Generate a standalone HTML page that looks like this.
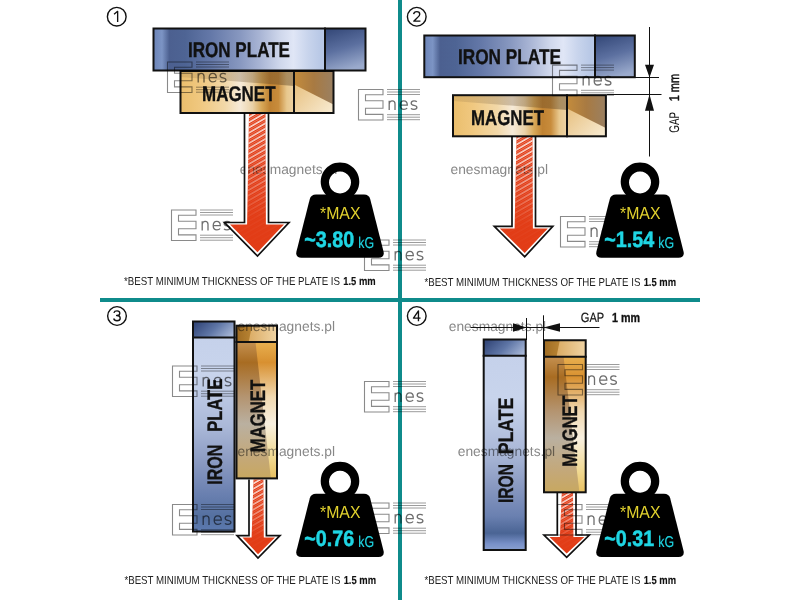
<!DOCTYPE html>
<html><head><meta charset="utf-8">
<style>
html,body{margin:0;padding:0;background:#fff;width:800px;height:600px;overflow:hidden}
svg{display:block;font-family:"Liberation Sans",sans-serif}
</style></head>
<body>
<svg width="800" height="600" viewBox="0 0 800 600" text-rendering="geometricPrecision">
<defs>
  <linearGradient id="ironH" x1="0" y1="0" x2="1" y2="0">
    <stop offset="0" stop-color="#6c84b8"/>
    <stop offset="0.04" stop-color="#7c94c4"/>
    <stop offset="0.075" stop-color="#4c6090"/>
    <stop offset="0.15" stop-color="#4e6494"/>
    <stop offset="0.27" stop-color="#6478a8"/>
    <stop offset="0.41" stop-color="#8898c0"/>
    <stop offset="0.5" stop-color="#a8b4d4"/>
    <stop offset="0.6" stop-color="#d0d8ec"/>
    <stop offset="0.66" stop-color="#e0e6f6"/>
    <stop offset="0.73" stop-color="#c8d4ec"/>
    <stop offset="0.79" stop-color="#b8c8e6"/>
    <stop offset="1" stop-color="#b8c8e6"/>
  </linearGradient>
  <linearGradient id="ironV3" x1="0" y1="0" x2="0" y2="1">
    <stop offset="0" stop-color="#c4d0ea"/>
    <stop offset="0.25" stop-color="#c8d4ec"/>
    <stop offset="0.5" stop-color="#aab8d8"/>
    <stop offset="0.68" stop-color="#8898c0"/>
    <stop offset="0.82" stop-color="#6a80b0"/>
    <stop offset="0.93" stop-color="#5470a0"/>
    <stop offset="1" stop-color="#5c7ab0"/>
  </linearGradient>
  <linearGradient id="ironV4" x1="0" y1="0" x2="0" y2="1">
    <stop offset="0" stop-color="#c4d0ea"/>
    <stop offset="0.28" stop-color="#c8d4ec"/>
    <stop offset="0.55" stop-color="#a8b6d6"/>
    <stop offset="0.7" stop-color="#8898c0"/>
    <stop offset="0.84" stop-color="#6a80b0"/>
    <stop offset="0.92" stop-color="#4a6494"/>
    <stop offset="0.97" stop-color="#7890c8"/>
    <stop offset="1" stop-color="#8aa0d0"/>
  </linearGradient>
  <linearGradient id="ironCap" x1="0.2" y1="0" x2="0.5" y2="1">
    <stop offset="0" stop-color="#364a7a"/>
    <stop offset="0.5" stop-color="#5c70a0"/>
    <stop offset="1" stop-color="#9aaacc"/>
  </linearGradient>
  <linearGradient id="ironCapV" x1="0" y1="0.3" x2="1" y2="0.7">
    <stop offset="0" stop-color="#34487a"/>
    <stop offset="0.5" stop-color="#5f76a6"/>
    <stop offset="1" stop-color="#a6b6d6"/>
  </linearGradient>
  <linearGradient id="magH" x1="0" y1="0" x2="1" y2="0">
    <stop offset="0" stop-color="#eabe6c"/>
    <stop offset="0.13" stop-color="#f0c880"/>
    <stop offset="0.29" stop-color="#f2d8a8"/>
    <stop offset="0.39" stop-color="#f6ead8"/>
    <stop offset="0.47" stop-color="#ead2a8"/>
    <stop offset="0.53" stop-color="#d8a858"/>
    <stop offset="0.585" stop-color="#c08232"/>
    <stop offset="0.64" stop-color="#c88c3c"/>
    <stop offset="0.695" stop-color="#e8c88e"/>
    <stop offset="0.735" stop-color="#ecd0a0"/>
    <stop offset="1" stop-color="#ecd0a0"/>
  </linearGradient>
  <linearGradient id="magVL" x1="0" y1="0" x2="0" y2="1">
    <stop offset="0" stop-color="#c49050"/>
    <stop offset="0.15" stop-color="#a86c22"/>
    <stop offset="0.4" stop-color="#b49470"/>
    <stop offset="0.6" stop-color="#bab0a0"/>
    <stop offset="0.85" stop-color="#c4a878"/>
    <stop offset="1" stop-color="#c8a860"/>
  </linearGradient>
  <linearGradient id="magVR" x1="0" y1="0" x2="0" y2="1">
    <stop offset="0" stop-color="#e8b050"/>
    <stop offset="0.15" stop-color="#d89030"/>
    <stop offset="0.4" stop-color="#f0d8b0"/>
    <stop offset="0.6" stop-color="#f8f0e0"/>
    <stop offset="0.85" stop-color="#f0d890"/>
    <stop offset="1" stop-color="#e8c060"/>
  </linearGradient>
  <linearGradient id="magBand" x1="0" y1="0" x2="1" y2="0">
    <stop offset="0" stop-color="#6a5030" stop-opacity="0.12"/>
    <stop offset="0.4" stop-color="#6a5030" stop-opacity="0.25"/>
    <stop offset="1" stop-color="#5a4020" stop-opacity="0.45"/>
  </linearGradient>
  <linearGradient id="magCapL" x1="0" y1="0" x2="1" y2="1">
    <stop offset="0" stop-color="#e4b870"/>
    <stop offset="1" stop-color="#f8ecd4"/>
  </linearGradient>
  <linearGradient id="magCapD" x1="0" y1="0" x2="1" y2="0">
    <stop offset="0" stop-color="#c48c3c"/>
    <stop offset="0.5" stop-color="#a87a42"/>
    <stop offset="1" stop-color="#9a8062"/>
  </linearGradient>
  <linearGradient id="magCapVL" x1="0" y1="0" x2="1" y2="0">
    <stop offset="0" stop-color="#d29a48"/>
    <stop offset="1" stop-color="#f0d4a4"/>
  </linearGradient>
  <linearGradient id="magCapVD" x1="0" y1="0" x2="1" y2="0">
    <stop offset="0" stop-color="#a06c22"/>
    <stop offset="1" stop-color="#b88434"/>
  </linearGradient>
  <pattern id="hatch" width="4.5" height="4.5" patternUnits="userSpaceOnUse" patternTransform="rotate(-30)">
    <line x1="0" y1="1" x2="4.5" y2="1" stroke="#fff" stroke-width="1.5"/>
    <line x1="0" y1="3.2" x2="4.5" y2="3.2" stroke="#fff" stroke-width="0.5" stroke-opacity="0.6"/>
  </pattern>
  <linearGradient id="hmG" x1="0" y1="0" x2="0" y2="1" gradientUnits="objectBoundingBox">
    <stop offset="0" stop-color="#fff" stop-opacity="0.95"/>
    <stop offset="0.3" stop-color="#fff" stop-opacity="0.7"/>
    <stop offset="0.6" stop-color="#fff" stop-opacity="0.25"/>
    <stop offset="0.75" stop-color="#fff" stop-opacity="0.05"/>
    <stop offset="1" stop-color="#fff" stop-opacity="0"/>
  </linearGradient>
  <mask id="hatchMask" maskContentUnits="objectBoundingBox">
    <rect width="1" height="1" fill="url(#hmG)"/>
  </mask>
  <symbol id="enes" overflow="visible">
    <path d="M0.5 0.5H25V5.8H7.5V11.7H25V19.2H7.5V25.4H25V31H0.5Z" fill="none" stroke="#8a8a8a" stroke-width="1.1"/>
    <g stroke="#9c9c9c" stroke-width="1">
      <line x1="29" y1="0.5" x2="62" y2="0.5"/><line x1="29" y1="3" x2="62" y2="3"/><line x1="29" y1="5.5" x2="62" y2="5.5"/>
      <line x1="29" y1="25.7" x2="62" y2="25.7"/><line x1="29" y1="28.2" x2="62" y2="28.2"/><line x1="29" y1="30.7" x2="62" y2="30.7"/>
    </g>
    <g fill="none" stroke="#6e6e6e" stroke-width="1.3">
      <path d="M31.2 21V11.8M31.2 14.8Q31.6 11.8 34.2 11.8Q37 11.8 37 14.8V21"/>
      <path d="M42.2 16.2H49.3Q49.3 11.8 45.75 11.8Q42.2 11.8 42.2 16.3Q42.2 20.4 45.9 20.4Q48.2 20.4 49.1 19"/>
      <path d="M58.8 12.7Q58 11.8 56 11.8Q53.2 11.8 53.2 14.2Q53.2 15.9 56 16.4Q58.9 16.9 58.9 18.6Q58.9 20.4 56 20.4Q53.8 20.4 53 19.4"/>
    </g>
  </symbol>
  <symbol id="weight" overflow="visible">
    <path fill="#000" fill-rule="evenodd" d="M0 -19.3A19.3 19.3 0 1 1 -0.01 -19.3ZM0 -10.2A11 11 0 1 0 0.01 -10.2Z"/>
    <path fill="#000" d="M-24 12.8H24Q29 12.8 30.2 17.3L43.6 70Q44.6 76 38.6 76H-38.6Q-44.6 76 -43.6 70L-30.2 17.3Q-29 12.8 -24 12.8Z"/>
  </symbol>
</defs>
<rect x="398" y="0" width="4" height="600" fill="#0f8b8b"/>
<rect x="100" y="298" width="600" height="4" fill="#0f8b8b"/>

<circle cx="116.75" cy="16.7" r="9.35" fill="none" stroke="#111" stroke-width="1.4"/>
<path d="M117.65 21.90V11.30L114.05 14.30" fill="none" stroke="#111" stroke-width="1.35" stroke-linejoin="round"/>
<text x="239.75" y="173.5" font-size="13.8" fill="#6a6a6a" opacity="0.8" textLength="97.5" lengthAdjust="spacing">enesmagnets.pl</text>
<path d="M244.5 113V222.5H224.5L257.5 256L289 222.5H268.5V113Z M249.0 113L247.1 224.5H230.0L257.5 252.2L284 224.5H265.9L265.5 113Z" fill="#fff" fill-rule="evenodd"/>
<path d="M244.5 113V222.5H224.5L257.5 256L289 222.5H268.5V113" fill="none" stroke="#111" stroke-width="1.7" stroke-linejoin="miter"/>
<path d="M249.0 113L247.1 224.5H230.0L257.5 252.2L284 224.5H265.9L265.5 113Z" fill="#e23c16" style="mix-blend-mode:multiply"/>
<path d="M249.0 113L247.1 224.5H230.0L257.5 252.2L284 224.5H265.9L265.5 113Z" fill="url(#hatch)" mask="url(#hatchMask)"/>
<g style="mix-blend-mode:multiply"><rect x="180.5" y="71" width="153.0" height="42" fill="url(#magH)"/>
<path d="M180.5 71H294V86.1L180.5 76.9Z" fill="url(#magBand)"/>
<rect x="294" y="71" width="39.5" height="42" fill="url(#magCapL)"/>
<path d="M294 71H333.5V104.6L294 84.4Z" fill="url(#magCapD)"/>
<line x1="294" y1="70" x2="294" y2="114" stroke="#111" stroke-width="2"/>
<rect x="180.5" y="71" width="153.0" height="42" fill="none" stroke="#111" stroke-width="2"/></g>
<text x="202" y="101.2" font-size="21.3" font-weight="bold" fill="#111" stroke="#111" stroke-width="0.35" textLength="73.5" lengthAdjust="spacingAndGlyphs">MAGNET</text>
<g style="mix-blend-mode:multiply"><rect x="153.5" y="28.5" width="212.0" height="42.0" fill="url(#ironH)"/>
<rect x="325" y="28.5" width="40.5" height="42.0" fill="url(#ironCap)"/>
<line x1="325" y1="27.5" x2="325" y2="71.5" stroke="#111" stroke-width="2"/>
<rect x="153.5" y="28.5" width="212.0" height="42.0" fill="none" stroke="#111" stroke-width="2"/></g>
<text x="188" y="56.6" font-size="21.3" font-weight="bold" fill="#111" stroke="#111" stroke-width="0.35" textLength="102" lengthAdjust="spacingAndGlyphs">IRON PLATE</text>
<text x="124" y="284.9" font-size="11.6" fill="#222" textLength="216" lengthAdjust="spacingAndGlyphs">*BEST MINIMUM THICKNESS OF THE PLATE IS</text>
<text x="343.25" y="284.9" font-size="11.6" font-weight="bold" fill="#111" stroke="#111" stroke-width="0.12" textLength="32.4" lengthAdjust="spacingAndGlyphs">1.5 mm</text>
<circle cx="416.75" cy="16.75" r="9.35" fill="none" stroke="#111" stroke-width="1.4"/>
<path d="M413.65 14.05Q414.05 11.65 416.75 11.65Q419.75 11.65 419.75 14.25Q419.75 16.15 417.05 17.95L413.75 21.15H420.45" fill="none" stroke="#111" stroke-width="1.35" stroke-linejoin="round"/>
<text x="450.5" y="173.75" font-size="13.8" fill="#6a6a6a" opacity="0.8" textLength="97.5" lengthAdjust="spacing">enesmagnets.pl</text>
<path d="M512 136V226.4H494.3L524.7 256.8L552.8 226.4H535.5V136Z M516.5 136L514.6 228.4H499.8L524.7 253.0L547.8 228.4H532.9L532.5 136Z" fill="#fff" fill-rule="evenodd"/>
<path d="M512 136V226.4H494.3L524.7 256.8L552.8 226.4H535.5V136" fill="none" stroke="#111" stroke-width="1.7" stroke-linejoin="miter"/>
<path d="M516.5 136L514.6 228.4H499.8L524.7 253.0L547.8 228.4H532.9L532.5 136Z" fill="#e23c16" style="mix-blend-mode:multiply"/>
<path d="M516.5 136L514.6 228.4H499.8L524.7 253.0L547.8 228.4H532.9L532.5 136Z" fill="url(#hatch)" mask="url(#hatchMask)"/>
<g style="mix-blend-mode:multiply"><rect x="424.3" y="35.5" width="210.49999999999994" height="41.7" fill="url(#ironH)"/>
<rect x="595" y="35.5" width="39.799999999999955" height="41.7" fill="url(#ironCap)"/>
<line x1="595" y1="34.5" x2="595" y2="78.2" stroke="#111" stroke-width="2"/>
<rect x="424.3" y="35.5" width="210.49999999999994" height="41.7" fill="none" stroke="#111" stroke-width="2"/></g>
<text x="458" y="63.9" font-size="21.3" font-weight="bold" fill="#111" stroke="#111" stroke-width="0.35" textLength="103" lengthAdjust="spacingAndGlyphs">IRON PLATE</text>
<g style="mix-blend-mode:multiply"><rect x="453" y="95.2" width="152.89999999999998" height="41.10000000000001" fill="url(#magH)"/>
<path d="M453 95.2H567V110.0L453 101.0Z" fill="url(#magBand)"/>
<rect x="567" y="95.2" width="38.89999999999998" height="41.10000000000001" fill="url(#magCapL)"/>
<path d="M567 95.2H605.9V128.1L567 108.4Z" fill="url(#magCapD)"/>
<line x1="567" y1="94.2" x2="567" y2="137.3" stroke="#111" stroke-width="2"/>
<rect x="453" y="95.2" width="152.89999999999998" height="41.10000000000001" fill="none" stroke="#111" stroke-width="2"/></g>
<text x="471" y="124.7" font-size="21.3" font-weight="bold" fill="#111" stroke="#111" stroke-width="0.35" textLength="73" lengthAdjust="spacingAndGlyphs">MAGNET</text>
<g stroke="#111" stroke-width="1">
  <line x1="649.5" y1="27" x2="649.5" y2="156.5"/>
  <line x1="635" y1="77.5" x2="659" y2="77.5"/>
  <line x1="607" y1="94.5" x2="661.5" y2="94.5"/>
</g>
<path d="M645 64.7H654L649.5 77.5Z" fill="#111"/>
<path d="M645 110.7H654L649.5 94.5Z" fill="#111"/>
<text transform="translate(679,132.7) rotate(-90)" font-size="14" fill="#111" textLength="20.7" lengthAdjust="spacingAndGlyphs">GAP</text>
<text transform="translate(679,101.3) rotate(-90)" font-size="14" fill="#111" stroke="#111" stroke-width="0.45" textLength="27.3" lengthAdjust="spacingAndGlyphs">1 mm</text>
<text x="424.4" y="285.9" font-size="11.6" fill="#222" textLength="216" lengthAdjust="spacingAndGlyphs">*BEST MINIMUM THICKNESS OF THE PLATE IS</text>
<text x="643.65" y="285.9" font-size="11.6" font-weight="bold" fill="#111" stroke="#111" stroke-width="0.12" textLength="32.4" lengthAdjust="spacingAndGlyphs">1.5 mm</text>
<circle cx="117" cy="316" r="9.35" fill="none" stroke="#111" stroke-width="1.4"/>
<path d="M113.90 312.80Q114.40 310.90 117.00 310.90Q119.80 310.90 119.80 313.20Q119.80 315.50 116.60 315.50Q120.20 315.50 120.20 318.20Q120.20 320.70 117.00 320.70Q114.20 320.70 113.70 318.50" fill="none" stroke="#111" stroke-width="1.35" stroke-linejoin="round"/>
<text x="237.5" y="330.75" font-size="13.8" fill="#6a6a6a" opacity="0.8" textLength="97.5" lengthAdjust="spacing">enesmagnets.pl</text>
<text x="237.5" y="455.75" font-size="13.8" fill="#6a6a6a" opacity="0.8" textLength="97.5" lengthAdjust="spacing">enesmagnets.pl</text>
<path d="M249 479.4V535.6H237L258 558L280 535.6H266.4V479.4Z M253.5 479.4L251.6 537.6H242.5L258 554.2L275 537.6H263.79999999999995L263.4 479.4Z" fill="#fff" fill-rule="evenodd"/>
<path d="M249 479.4V535.6H237L258 558L280 535.6H266.4V479.4" fill="none" stroke="#111" stroke-width="1.7" stroke-linejoin="miter"/>
<path d="M253.5 479.4L251.6 537.6H242.5L258 554.2L275 537.6H263.79999999999995L263.4 479.4Z" fill="#e23c16" style="mix-blend-mode:multiply"/>
<path d="M253.5 479.4L251.6 537.6H242.5L258 554.2L275 537.6H263.79999999999995L263.4 479.4Z" fill="url(#hatch)" mask="url(#hatchMask)"/>
<g style="mix-blend-mode:multiply"><rect x="193" y="321.5" width="41.5" height="210.0" fill="url(#ironV3)"/>
<rect x="193" y="321.5" width="41.5" height="16.0" fill="url(#ironCapV)"/>
<line x1="192" y1="337.5" x2="235.5" y2="337.5" stroke="#111" stroke-width="2"/>
<rect x="193" y="321.5" width="41.5" height="210.0" fill="none" stroke="#111" stroke-width="2"/></g>
<text transform="translate(222.4,484.8) rotate(-90)" font-size="21" font-weight="bold" fill="#111" stroke="#111" stroke-width="0.35" textLength="40" lengthAdjust="spacingAndGlyphs">IRON</text>
<text transform="translate(222.4,431.75) rotate(-90)" font-size="21" font-weight="bold" fill="#111" stroke="#111" stroke-width="0.35" textLength="53" lengthAdjust="spacingAndGlyphs">PLATE</text>
<g style="mix-blend-mode:multiply"><rect x="236.5" y="342" width="40.5" height="136.39999999999998" fill="url(#magVL)"/>
<path d="M255.5 342H277V478.4H270.9Z" fill="url(#magVR)"/>
<rect x="236.5" y="325.7" width="40.5" height="16.30000000000001" fill="url(#magCapVL)"/>
<path d="M236.5 325.7H251.9L248.7 342H236.5Z" fill="url(#magCapVD)"/>
<line x1="235.5" y1="342" x2="278" y2="342" stroke="#111" stroke-width="2"/>
<rect x="236.5" y="325.7" width="40.5" height="152.7" fill="none" stroke="#111" stroke-width="2"/></g>
<text transform="translate(264.9,452.3) rotate(-90)" font-size="21" font-weight="bold" fill="#111" stroke="#111" stroke-width="0.35" textLength="72.5" lengthAdjust="spacingAndGlyphs">MAGNET</text>
<text x="124.4" y="584.0" font-size="11.6" fill="#222" textLength="216" lengthAdjust="spacingAndGlyphs">*BEST MINIMUM THICKNESS OF THE PLATE IS</text>
<text x="343.65" y="584.0" font-size="11.6" font-weight="bold" fill="#111" stroke="#111" stroke-width="0.12" textLength="32.4" lengthAdjust="spacingAndGlyphs">1.5 mm</text>
<circle cx="416.75" cy="316" r="9.35" fill="none" stroke="#111" stroke-width="1.4"/>
<path d="M418.45 321.30V310.80L413.45 318.10H420.55" fill="none" stroke="#111" stroke-width="1.35" stroke-linejoin="round"/>
<text x="448.7" y="331" font-size="13.8" fill="#6a6a6a" opacity="0.8" textLength="97.5" lengthAdjust="spacing">enesmagnets.pl</text>
<text x="457.7" y="455.75" font-size="13.8" fill="#6a6a6a" opacity="0.8" textLength="97.5" lengthAdjust="spacing">enesmagnets.pl</text>
<g stroke="#111" stroke-width="1">
  <line x1="470.5" y1="327.5" x2="599.5" y2="327.5"/>
  <line x1="526.5" y1="318" x2="526.5" y2="340"/>
  <line x1="543.5" y1="315.3" x2="543.5" y2="340"/>
</g>
<path d="M513 323.3V331.8L526.5 327.5Z" fill="#111"/>
<path d="M560 323.3V331.8L543.5 327.5Z" fill="#111"/>
<text x="580.8" y="322" font-size="13.4" fill="#111" stroke="#111" stroke-width="0.2" textLength="23.4" lengthAdjust="spacingAndGlyphs">GAP</text>
<text x="612" y="322" font-size="13.2" font-weight="bold" fill="#111" stroke="#111" stroke-width="0.35" textLength="28" lengthAdjust="spacingAndGlyphs">1 mm</text>
<path d="M557.3 493V535H544L566.7 557.3L589.3 535H576V493Z M561.8 493L559.9 537H549.5L566.7 553.5L584.3 537H573.4L573 493Z" fill="#fff" fill-rule="evenodd"/>
<path d="M557.3 493V535H544L566.7 557.3L589.3 535H576V493" fill="none" stroke="#111" stroke-width="1.7" stroke-linejoin="miter"/>
<path d="M561.8 493L559.9 537H549.5L566.7 553.5L584.3 537H573.4L573 493Z" fill="#e23c16" style="mix-blend-mode:multiply"/>
<path d="M561.8 493L559.9 537H549.5L566.7 553.5L584.3 537H573.4L573 493Z" fill="url(#hatch)" mask="url(#hatchMask)"/>
<g style="mix-blend-mode:multiply"><rect x="483.7" y="339.5" width="42.00000000000006" height="210.5" fill="url(#ironV4)"/>
<rect x="483.7" y="339.5" width="42.00000000000006" height="16.25" fill="url(#ironCapV)"/>
<line x1="482.7" y1="355.75" x2="526.7" y2="355.75" stroke="#111" stroke-width="2"/>
<rect x="483.7" y="339.5" width="42.00000000000006" height="210.5" fill="none" stroke="#111" stroke-width="2"/></g>
<text transform="translate(513.4,503) rotate(-90)" font-size="21" font-weight="bold" fill="#111" stroke="#111" stroke-width="0.35" textLength="39" lengthAdjust="spacingAndGlyphs">IRON</text>
<text transform="translate(513.4,454.3) rotate(-90)" font-size="21" font-weight="bold" fill="#111" stroke="#111" stroke-width="0.35" textLength="56.7" lengthAdjust="spacingAndGlyphs">PLATE</text>
<g style="mix-blend-mode:multiply"><rect x="544" y="356.8" width="41.700000000000045" height="135.5" fill="url(#magVL)"/>
<path d="M563.6 356.8H585.7V492.3H579.4Z" fill="url(#magVR)"/>
<rect x="544" y="340.25" width="41.700000000000045" height="16.55000000000001" fill="url(#magCapVL)"/>
<path d="M544 340.25H559.8L556.5 356.8H544Z" fill="url(#magCapVD)"/>
<line x1="543" y1="356.8" x2="586.7" y2="356.8" stroke="#111" stroke-width="2"/>
<rect x="544" y="340.25" width="41.700000000000045" height="152.05" fill="none" stroke="#111" stroke-width="2"/></g>
<text transform="translate(576.5,466.7) rotate(-90)" font-size="21" font-weight="bold" fill="#111" stroke="#111" stroke-width="0.35" textLength="71.2" lengthAdjust="spacingAndGlyphs">MAGNET</text>
<text x="424.4" y="584.0" font-size="11.6" fill="#222" textLength="216" lengthAdjust="spacingAndGlyphs">*BEST MINIMUM THICKNESS OF THE PLATE IS</text>
<text x="643.65" y="584.0" font-size="11.6" font-weight="bold" fill="#111" stroke="#111" stroke-width="0.12" textLength="32.4" lengthAdjust="spacingAndGlyphs">1.5 mm</text>
<use href="#enes" x="167" y="61.5" style="mix-blend-mode:multiply"/>
<use href="#enes" x="358" y="89" style="mix-blend-mode:multiply"/>
<use href="#enes" x="171" y="209.5" style="mix-blend-mode:multiply"/>
<use href="#enes" x="364" y="239.5" style="mix-blend-mode:multiply"/>
<use href="#enes" x="552" y="64.6" style="mix-blend-mode:multiply"/>
<use href="#enes" x="560" y="216" style="mix-blend-mode:multiply"/>
<use href="#enes" x="172" y="365.5" style="mix-blend-mode:multiply"/>
<use href="#enes" x="364" y="381" style="mix-blend-mode:multiply"/>
<use href="#enes" x="172" y="504" style="mix-blend-mode:multiply"/>
<use href="#enes" x="364" y="502.5" style="mix-blend-mode:multiply"/>
<use href="#enes" x="557.5" y="364" style="mix-blend-mode:multiply"/>
<use href="#enes" x="557" y="504" style="mix-blend-mode:multiply"/>
<use href="#weight" x="340" y="181.7"/>
<text x="320" y="218.6" font-size="17.6" fill="#e2d22e" textLength="40.5" lengthAdjust="spacingAndGlyphs">*MAX</text>
<text x="304.2" y="247.0" font-size="22.3" font-weight="bold" fill="#1fd6e4" stroke="#1fd6e4" stroke-width="0.5" textLength="50" lengthAdjust="spacingAndGlyphs">~3.80</text>
<text x="358.3" y="247.6" font-size="15.6" fill="#1fd6e4" stroke="#1fd6e4" stroke-width="0.2" textLength="15.8" lengthAdjust="spacingAndGlyphs">kG</text>
<use href="#weight" x="640" y="181.7"/>
<text x="620" y="218.6" font-size="17.6" fill="#e2d22e" textLength="40.5" lengthAdjust="spacingAndGlyphs">*MAX</text>
<text x="604.2" y="247.0" font-size="22.3" font-weight="bold" fill="#1fd6e4" stroke="#1fd6e4" stroke-width="0.5" textLength="50" lengthAdjust="spacingAndGlyphs">~1.54</text>
<text x="658.3" y="247.6" font-size="15.6" fill="#1fd6e4" stroke="#1fd6e4" stroke-width="0.2" textLength="15.8" lengthAdjust="spacingAndGlyphs">kG</text>
<use href="#weight" x="340" y="481"/>
<text x="320" y="517.9" font-size="17.6" fill="#e2d22e" textLength="40.5" lengthAdjust="spacingAndGlyphs">*MAX</text>
<text x="304.2" y="546.3" font-size="22.3" font-weight="bold" fill="#1fd6e4" stroke="#1fd6e4" stroke-width="0.5" textLength="50" lengthAdjust="spacingAndGlyphs">~0.76</text>
<text x="358.3" y="546.9" font-size="15.6" fill="#1fd6e4" stroke="#1fd6e4" stroke-width="0.2" textLength="15.8" lengthAdjust="spacingAndGlyphs">kG</text>
<use href="#weight" x="640" y="481"/>
<text x="620" y="517.9" font-size="17.6" fill="#e2d22e" textLength="40.5" lengthAdjust="spacingAndGlyphs">*MAX</text>
<text x="604.2" y="546.3" font-size="22.3" font-weight="bold" fill="#1fd6e4" stroke="#1fd6e4" stroke-width="0.5" textLength="50" lengthAdjust="spacingAndGlyphs">~0.31</text>
<text x="658.3" y="546.9" font-size="15.6" fill="#1fd6e4" stroke="#1fd6e4" stroke-width="0.2" textLength="15.8" lengthAdjust="spacingAndGlyphs">kG</text>
</svg>
</body></html>
